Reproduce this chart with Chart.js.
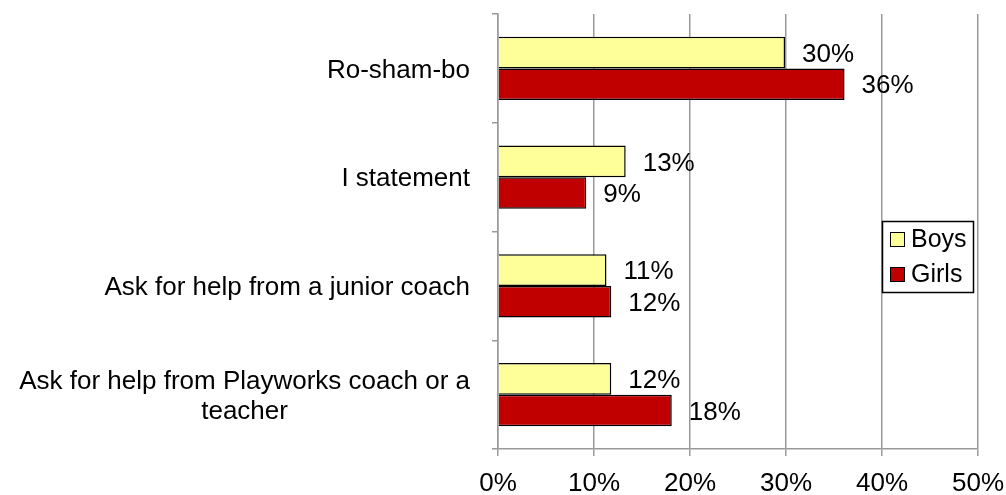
<!DOCTYPE html>
<html>
<head>
<meta charset="utf-8">
<script src="https://cdn.jsdelivr.net/npm/chart.js@4"></script>
<style>
    html, body { margin: 0; padding: 0; background: #fff; }
    #wrap { position: relative; width: 1006px; height: 495px; }
</style>
</head>
<body>
<div id="wrap"><canvas id="chart"></canvas></div>
<script>
const categories = [
    ['Ro-sham-bo'],
    ['I statement'],
    ['Ask for help from a junior coach'],
    ['Ask for help from Playworks coach or a', 'teacher'],
];
const boys = [29.9, 13.3, 11.3, 11.8];
const girls = [36.1, 9.2, 11.8, 18.1];
const seriesNames = ['Boys', 'Girls'];
const xMax = 50;
const xStep = 10;

const FONT = "'Liberation Sans', Arial, sans-serif";
const GRID = '#9a9a9a';

// category labels: right-aligned block, lines centered inside it (Excel style)
const catLabels = {
    id: 'catLabels',
    afterDraw(chart) {
        const ctx = chart.ctx;
        const y = chart.scales.y;
        const right = chart.chartArea.left - 28;
        const lh = 30;
        ctx.save();
        ctx.font = '26px ' + FONT;
        ctx.fillStyle = '#000';
        ctx.textAlign = 'center';
        ctx.textBaseline = 'middle';
        categories.forEach((lines, i) => {
            const w = Math.max(...lines.map(l => ctx.measureText(l).width));
            const cx = right - w / 2;
            const cy = y.getPixelForValue(i) + 2;
            const top = cy - (lines.length - 1) * lh / 2;
            lines.forEach((l, j) => ctx.fillText(l, cx, top + j * lh));
        });
        ctx.restore();
    }
};

// value labels at bar ends
const valueLabels = {
    id: 'valueLabels',
    afterDatasetsDraw(chart) {
        const ctx = chart.ctx;
        ctx.save();
        ctx.font = '26px ' + FONT;
        ctx.fillStyle = '#000';
        ctx.textAlign = 'left';
        ctx.textBaseline = 'middle';
        chart.data.datasets.forEach((ds, di) => {
            chart.getDatasetMeta(di).data.forEach((bar, i) => {
                ctx.fillText(Math.round(ds.data[i]) + '%', bar.x + 17, bar.y + 2);
            });
        });
        ctx.restore();
    }
};

// boxed legend sitting inside the plot, right side
const boxLegend = {
    id: 'boxLegend',
    afterDraw(chart) {
        const ctx = chart.ctx;
        const area = chart.chartArea;
        const bx = area.right - 96, by = area.top + 207, bw = 91, bh = 71;
        ctx.save();
        ctx.fillStyle = '#fff';
        ctx.fillRect(bx, by, bw, bh);
        ctx.strokeStyle = '#000';
        ctx.lineWidth = 1.5;
        ctx.strokeRect(bx + 0.5, by + 0.5, bw, bh);
        ctx.font = '25px ' + FONT;
        ctx.textAlign = 'left';
        ctx.textBaseline = 'middle';
        ctx.lineWidth = 1;
        chart.data.datasets.forEach((ds, i) => {
            const cy = by + 18 + i * 35;
            ctx.fillStyle = ds.backgroundColor;
            ctx.fillRect(bx + 8, cy - 7, 14, 14);
            ctx.strokeStyle = '#000';
            ctx.strokeRect(bx + 8.5, cy - 6.5, 14, 14);
            ctx.fillStyle = '#000';
            ctx.fillText(ds.label, bx + 29, cy + 1);
        });
        ctx.restore();
    }
};

new Chart(document.getElementById('chart'), {
    type: 'bar',
    data: {
        labels: categories,
        datasets: [
            {
                label: seriesNames[0],
                data: boys,
                backgroundColor: '#ffff99',
                borderColor: '#000',
                borderWidth: 1.5,
            },
            {
                label: seriesNames[1],
                data: girls,
                backgroundColor: '#c00000',
                borderColor: '#000',
                borderWidth: 1.5,
            },
        ],
    },
    options: {
        indexAxis: 'y',
        responsive: true,
        maintainAspectRatio: false,
        animation: false,
        events: [],
        layout: { padding: { top: 14, right: 28, left: 0, bottom: 0 } },
        datasets: { bar: { categoryPercentage: 0.58, barPercentage: 1 } },
        scales: {
            x: {
                min: 0,
                max: xMax,
                ticks: {
                    stepSize: xStep,
                    callback: v => v + '%',
                    color: '#000',
                    font: { family: FONT, size: 26 },
                    padding: 12,
                    maxRotation: 0,
                },
                grid: { color: GRID, tickLength: 7, lineWidth: 1.5 },
                border: { color: GRID, width: 1.5 },
                afterFit: s => { s.height = 46; s.paddingRight = 0; s.paddingLeft = 0; },
            },
            y: {
                ticks: { display: false },
                grid: { drawOnChartArea: false, drawTicks: true, tickLength: 6, color: GRID, offset: true, lineWidth: 1.5 },
                border: { color: GRID, width: 1.5 },
                afterFit: s => { s.width = 498; },
            },
        },
        plugins: {
            legend: { display: false },
            tooltip: { enabled: false },
        },
    },
    plugins: [catLabels, valueLabels, boxLegend],
});
</script>
</body>
</html>
